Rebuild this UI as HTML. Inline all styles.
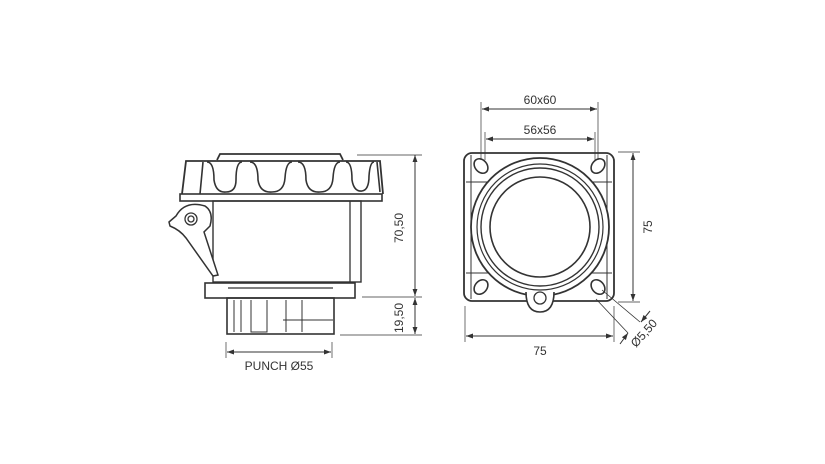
<!DOCTYPE html>
<html><head><style>
body{margin:0;background:#fff}
svg{display:block}
text{font-family:"Liberation Sans",sans-serif;font-size:12px;fill:#333}
</style></head><body>
<svg width="825" height="464" viewBox="0 0 825 464" xmlns="http://www.w3.org/2000/svg">
<defs>
<marker id="a" viewBox="0 0 10 10" refX="10" refY="5" markerWidth="7" markerHeight="7" orient="auto-start-reverse"><path d="M0,1.5 L10,5 L0,8.5 Z" fill="#333"/></marker>
</defs>
<g stroke="#333" fill="none" stroke-width="1.3">
<!-- side view -->
<path d="M217,160 L220,154 L340,154 L343,160" stroke-width="1.8"/>
<rect x="180" y="194" width="202" height="7" stroke-width="1.6"/>
<path d="M182,194 L186,161 L380,161 L383,194" stroke-width="1.8"/>
<path d="M200,194 L203,162 M207,162 Q214,162 214,180 Q216,193 226,192 Q236,192 236,180 Q236,162 242,162 M250,162 Q258,162 258,180 Q260,193 272,192 Q284,192 285,178 Q286,162 292,162 M298,162 Q306,162 306,180 Q308,193 320,192 Q332,192 333,178 Q334,162 340,162 M346,162 Q352,162 352,180 Q354,192 362,191 Q369,190 369,176 Q370,162 374,162 M377,162 L380,192" stroke-width="1.6"/>
<rect x="213" y="201" width="148" height="81" stroke-width="1.4"/>
<line x1="350" y1="201" x2="350" y2="282"/>
<path d="M169,222 L176,216 Q185,200 205,206 Q214,212 210,226 L204,232 L218,275 L213,276 L186,238 Q180,230 170,226 Z" fill="#fff" stroke-width="1.5"/>
<circle cx="191" cy="219" r="6" fill="#fff"/><circle cx="191" cy="219" r="3"/>
<rect x="205" y="283" width="150" height="15" fill="#fff" stroke-width="1.6"/>
<line x1="228" y1="288" x2="333" y2="288"/>
<rect x="227" y="298" width="107" height="36" stroke-width="1.6"/>
<path d="M251,300 L251,332 L267,332 L267,300 M286,300 L286,332 M302,300 L302,332 M283,320 L333,320 M234,300 L234,332 M241,300 L241,332" stroke-width="1"/>
<!-- dims side -->
<line x1="357" y1="155" x2="422" y2="155" stroke-width="0.7"/>
<line x1="362" y1="297" x2="422" y2="297" stroke-width="0.7"/>
<line x1="340" y1="335" x2="422" y2="335" stroke-width="0.7"/>
<line x1="415" y1="155" x2="415" y2="296" stroke-width="1" marker-start="url(#a)" marker-end="url(#a)"/>
<line x1="415" y1="298" x2="415" y2="334" stroke-width="1" marker-start="url(#a)" marker-end="url(#a)"/>
<line x1="226" y1="342" x2="226" y2="358" stroke-width="0.7"/>
<line x1="332" y1="342" x2="332" y2="358" stroke-width="0.7"/>
<line x1="227" y1="352" x2="331" y2="352" stroke-width="1" marker-start="url(#a)" marker-end="url(#a)"/>
<!-- front view -->
<rect x="464" y="153" width="150" height="148" rx="8" stroke-width="1.8"/>
<line x1="466" y1="182" x2="612" y2="182" stroke-width="1"/><line x1="466" y1="273" x2="612" y2="273" stroke-width="1"/>
<line x1="471" y1="155" x2="471" y2="299" stroke-width="1"/><line x1="607" y1="155" x2="607" y2="299" stroke-width="1"/>
<circle cx="540" cy="227" r="69" fill="#fff" stroke-width="1.8"/>
<circle cx="540" cy="227" r="63" stroke-width="1.2"/>
<circle cx="540" cy="227" r="59" stroke-width="1.4"/>
<circle cx="540" cy="227" r="50" stroke-width="1.6"/>
<path d="M526,292 Q526,312 540,312 Q554,312 554,292" fill="#fff" stroke-width="1.6"/>
<circle cx="540" cy="298" r="6"/>
<g fill="#fff" stroke-width="1.6">
<ellipse cx="481" cy="166" rx="6" ry="8" transform="rotate(-40 481 166)"/>
<ellipse cx="598" cy="166" rx="6" ry="8" transform="rotate(40 598 166)"/>
<ellipse cx="481" cy="287" rx="6" ry="8" transform="rotate(40 481 287)"/>
<ellipse cx="598" cy="287" rx="6" ry="8" transform="rotate(-40 598 287)"/>
</g>
<!-- dims front -->
<line x1="481" y1="102" x2="481" y2="160" stroke-width="0.7"/>
<line x1="598" y1="102" x2="598" y2="160" stroke-width="0.7"/>
<line x1="485" y1="132" x2="485" y2="160" stroke-width="0.7"/>
<line x1="595" y1="132" x2="595" y2="160" stroke-width="0.7"/>
<line x1="482" y1="109" x2="597" y2="109" stroke-width="1" marker-start="url(#a)" marker-end="url(#a)"/>
<line x1="486" y1="139" x2="594" y2="139" stroke-width="1" marker-start="url(#a)" marker-end="url(#a)"/>
<line x1="618" y1="152" x2="640" y2="152" stroke-width="0.7"/>
<line x1="618" y1="302" x2="640" y2="302" stroke-width="0.7"/>
<line x1="633" y1="153" x2="633" y2="301" stroke-width="1" marker-start="url(#a)" marker-end="url(#a)"/>
<line x1="465" y1="306" x2="465" y2="342" stroke-width="0.7"/>
<line x1="614" y1="306" x2="614" y2="342" stroke-width="0.7"/>
<line x1="466" y1="336" x2="613" y2="336" stroke-width="1" marker-start="url(#a)" marker-end="url(#a)"/>
<line x1="602" y1="290" x2="640" y2="322" stroke-width="0.8"/>
<line x1="596" y1="299" x2="628" y2="333" stroke-width="0.8"/>
<line x1="650" y1="311" x2="641" y2="322" stroke-width="1" marker-end="url(#a)"/>
<line x1="620" y1="344" x2="628" y2="333" stroke-width="1" marker-end="url(#a)"/>
</g>
<text x="279" y="370" text-anchor="middle">PUNCH Ø55</text>
<text transform="translate(403,228) rotate(-90)" text-anchor="middle">70,50</text>
<text transform="translate(403,318) rotate(-90)" text-anchor="middle">19,50</text>
<text x="540" y="104" text-anchor="middle">60x60</text>
<text x="540" y="134" text-anchor="middle">56x56</text>
<text transform="translate(652,227) rotate(-90)" text-anchor="middle">75</text>
<text x="540" y="355" text-anchor="middle">75</text>
<text transform="translate(636,348) rotate(-48)" text-anchor="start">Ø5,50</text>
</svg>
</body></html>
